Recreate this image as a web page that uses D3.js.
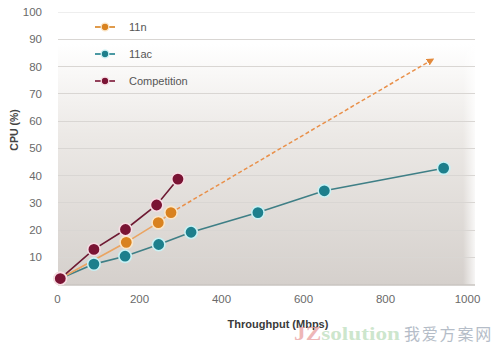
<!DOCTYPE html>
<html>
<head>
<meta charset="utf-8">
<script src="https://cdn.jsdelivr.net/npm/d3@7"></script>
<style>
  html, body { margin: 0; padding: 0; background: #fff; }
  svg { display: block; font-family: "Liberation Sans", Arial, sans-serif; }
</style>
</head>
<body>
<svg id="chart" width="500" height="345"></svg>
<script>
// Throughput (Mbps) vs CPU (%) for each chipset
const competition = [[8, 2], [90, 12.7], [167, 20], [243, 29], [295, 38.5]];
const n11 = [[8, 2], [169, 15.3], [247, 22.5], [278, 26.2]];
const n11Projection = [[278, 26.2], [917, 82.5]];
const ac11 = [[8, 2], [90, 7.3], [166, 10.2], [248, 14.5], [327, 19], [490, 26.2], [652, 34.2], [943, 42.5]];

const xTicks = [0, 200, 400, 600, 800, 1000];
const yTicks = [10, 20, 30, 40, 50, 60, 70, 80, 90, 100];

const seriesNames = ["11n", "11ac", "Competition"];
const seriesColors = { "11n": "#d9821f", "11ac": "#1d7f8c", "Competition": "#7a1434" };
const lineColors = { "11n": "#eaa462", "11ac": "#3f7f86", "Competition": "#6e1a33" };
const ringColors = { "11n": "#fbe6c8", "11ac": "#c9f1f4", "Competition": "#f7dde4" };

const svg = d3.select("#chart");
const plot = { left: 58, right: 475, top: 11, bottom: 285 };

const x = d3.scaleLinear().domain([0, 1000]).range([57, 467]);
const y = d3.scaleLinear().domain([0, 100]).range([284, 11.5]);

// plot background: white fading to warm grey toward the bottom
const defs = svg.append("defs");
const grad = defs.append("linearGradient").attr("id", "bg").attr("x1", 0).attr("y1", 0).attr("x2", 0).attr("y2", 1);
grad.append("stop").attr("offset", "0%").attr("stop-color", "#ffffff");
grad.append("stop").attr("offset", "12%").attr("stop-color", "#ffffff");
grad.append("stop").attr("offset", "45%").attr("stop-color", "#ece9e6");
grad.append("stop").attr("offset", "100%").attr("stop-color", "#d5d0cc");
const gradR = defs.append("linearGradient").attr("id", "fadeR").attr("x1", 0).attr("y1", 0).attr("x2", 1).attr("y2", 0);
gradR.append("stop").attr("offset", "0%").attr("stop-color", "#fff").attr("stop-opacity", 0);
gradR.append("stop").attr("offset", "100%").attr("stop-color", "#fff").attr("stop-opacity", 0.8);

svg.append("rect")
  .attr("x", plot.left).attr("y", plot.top)
  .attr("width", plot.right - plot.left).attr("height", plot.bottom - plot.top)
  .attr("fill", "url(#bg)");
svg.append("rect")
  .attr("x", plot.right - 12).attr("y", plot.top)
  .attr("width", 12).attr("height", plot.bottom - plot.top)
  .attr("fill", "url(#fadeR)");

// horizontal gridlines
svg.append("g").selectAll("line").data(yTicks).join("line")
  .attr("x1", plot.left).attr("x2", plot.right)
  .attr("y1", d => Math.round(y(d)) + 0.5).attr("y2", d => Math.round(y(d)) + 0.5)
  .attr("stroke", d => d === 100 ? "#eeeeee" : "#d9d6d3")
  .attr("stroke-width", 1);
svg.append("line")
  .attr("x1", plot.left).attr("x2", plot.right)
  .attr("y1", plot.bottom).attr("y2", plot.bottom)
  .attr("stroke", "#c9c4c0").attr("stroke-width", 1.5);

// axes
const yAxis = d3.axisLeft(y).tickValues(yTicks).tickSize(0).tickPadding(0);
const gy = svg.append("g").attr("transform", "translate(42,0)").call(yAxis);
const xAxis = d3.axisBottom(x).tickValues(xTicks).tickFormat(d3.format("d")).tickSize(0).tickPadding(0);
const gx = svg.append("g").attr("transform", "translate(0,295)").call(xAxis);
[gy, gx].forEach(g => {
  g.select(".domain").remove();
  g.selectAll("text").attr("fill", "#6a6a6a").attr("font-size", 11.5);
});
gy.selectAll("text").attr("dy", "0.35em");

svg.append("text")
  .attr("transform", "translate(18,130) rotate(-90)")
  .attr("text-anchor", "middle")
  .attr("font-size", 10.5).attr("font-weight", "bold").attr("fill", "#444")
  .text("CPU (%)");
svg.append("text")
  .attr("x", 278).attr("y", 328)
  .attr("text-anchor", "middle")
  .attr("font-size", 11).attr("font-weight", "bold").attr("fill", "#3a3a3a")
  .text("Throughput (Mbps)");

// site watermark in the lower right
const wm = svg.append("text").attr("x", 294).attr("y", 340)
  .attr("font-family", "'Liberation Serif', serif").attr("font-weight", "bold").attr("font-size", 18)
  .attr("textLength", 106).attr("lengthAdjust", "spacingAndGlyphs");
wm.append("tspan").attr("fill", "#e9a0a0").attr("fill-opacity", 0.75).text("JZ");
wm.append("tspan").attr("fill", "#bfe0c0").attr("fill-opacity", 0.8).text("solution");
svg.append("text").attr("x", 404).attr("y", 340)
  .attr("font-family", "'Noto Sans CJK SC', sans-serif").attr("font-size", 16)
  .attr("fill", "#b5bdc8").attr("letter-spacing", 1.8)
  .text("我爱方案网");

// series lines
const line = d3.line().x(d => x(d[0])).y(d => y(d[1]));

// projected 11n trend with arrow head
defs.append("marker").attr("id", "arrow")
  .attr("viewBox", "0 0 10 10").attr("refX", 8).attr("refY", 5)
  .attr("markerWidth", 5).attr("markerHeight", 5).attr("orient", "auto")
  .append("path").attr("d", "M0,0 L10,5 L0,10 z").attr("fill", "#e38a3c");
svg.append("path").datum(n11Projection)
  .attr("d", line).attr("fill", "none")
  .attr("stroke", "#e9904a").attr("stroke-width", 1.5)
  .attr("stroke-dasharray", "4,2.5")
  .attr("marker-end", "url(#arrow)");

const series = [
  { name: "11ac", data: ac11 },
  { name: "11n", data: n11 },
  { name: "Competition", data: competition }
];

series.forEach(s => {
  svg.append("path").datum(s.data)
    .attr("d", line).attr("fill", "none")
    .attr("stroke", lineColors[s.name]).attr("stroke-width", 1.6);
});
series.forEach(s => {
  svg.append("g").selectAll("circle").data(s.data).join("circle")
    .attr("cx", d => x(d[0])).attr("cy", d => y(d[1]))
    .attr("r", 6.2)
    .attr("fill", seriesColors[s.name])
    .attr("stroke", ringColors[s.name]).attr("stroke-width", 1.6);
});

// legend
const legend = svg.append("g");
seriesNames.forEach((name, i) => {
  const ly = 27 + i * 27;
  legend.append("line")
    .attr("x1", 95).attr("x2", 115).attr("y1", ly).attr("y2", ly)
    .attr("stroke", seriesColors[name]).attr("stroke-width", 1.6);
  legend.append("circle")
    .attr("cx", 105).attr("cy", ly).attr("r", 3.8)
    .attr("fill", seriesColors[name])
    .attr("stroke", ringColors[name]).attr("stroke-width", 1.3);
  legend.append("text")
    .attr("x", 129).attr("y", ly).attr("dy", "0.35em")
    .attr("font-size", 11).attr("fill", "#555")
    .text(name);
});
</script>
</body>
</html>
